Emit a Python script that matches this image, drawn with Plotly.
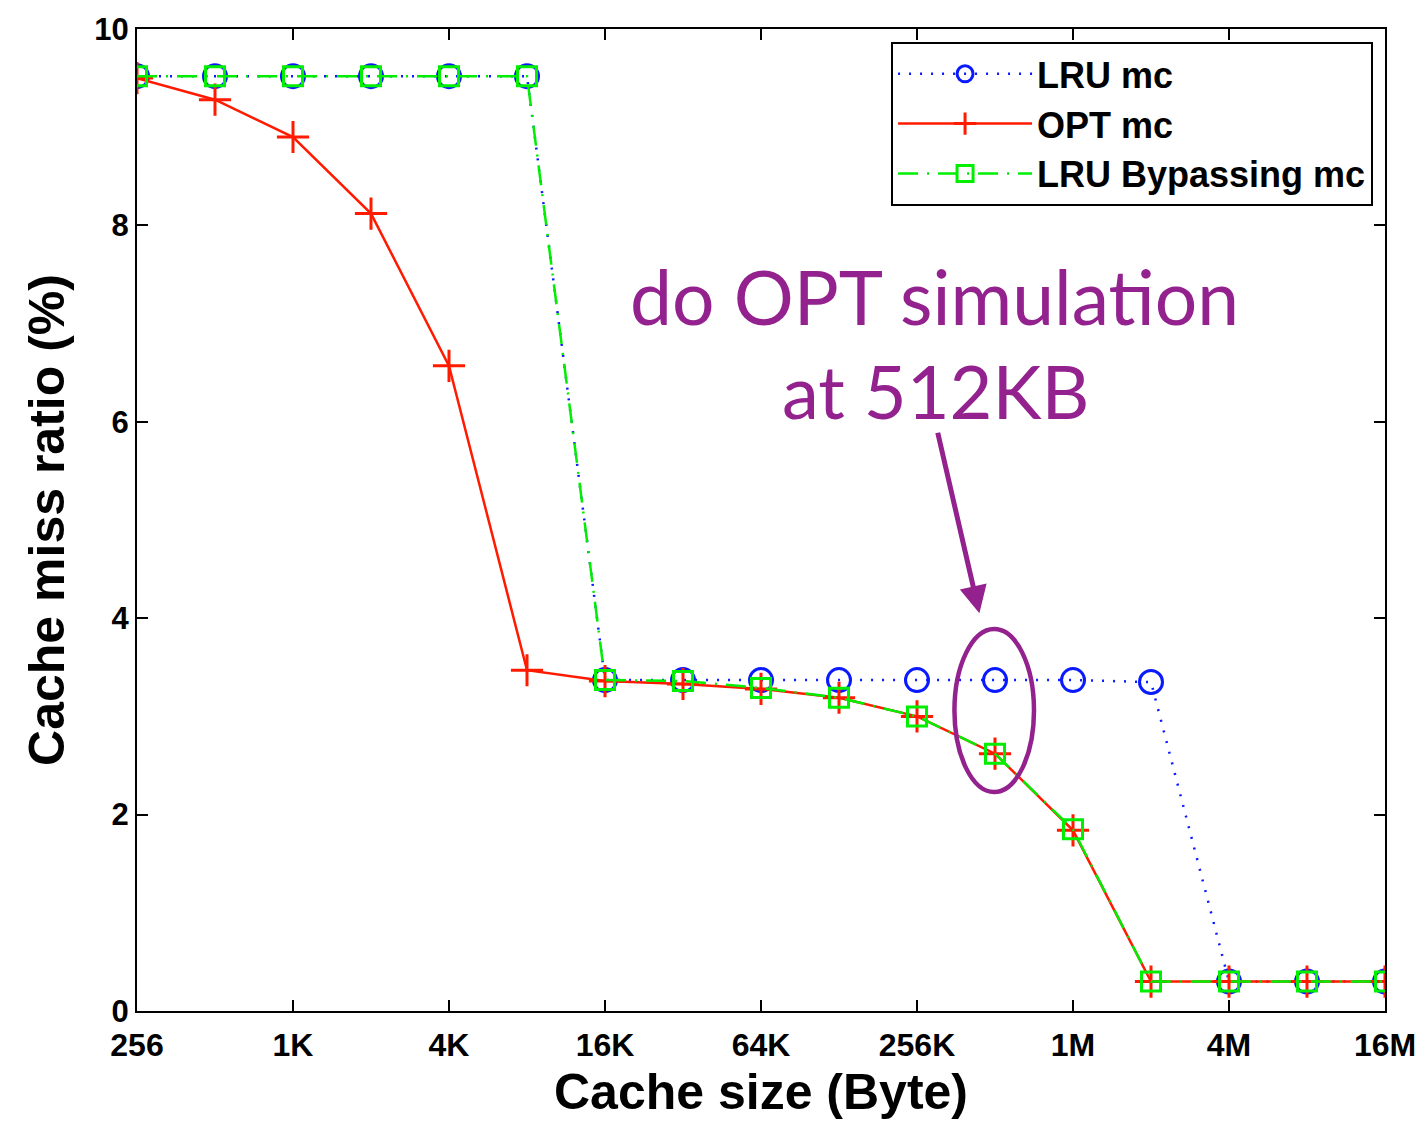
import numpy as np
import plotly.graph_objects as go

# ---- data ----
cache_sizes = [256, 512, 1024, 2048, 4096, 8192, 16384, 32768, 65536, 131072,
               262144, 524288, 1048576, 2097152, 4194304, 8388608, 16777216]
lru_mc = [9.52, 9.52, 9.52, 9.52, 9.52, 9.52, 3.37, 3.37, 3.37, 3.37,
          3.37, 3.37, 3.37, 3.35, 0.30, 0.30, 0.30]
opt_mc = [9.50, 9.28, 8.90, 8.12, 6.57, 3.47, 3.36, 3.33, 3.28, 3.19,
          3.00, 2.62, 1.84, 0.30, 0.30, 0.30, 0.30]
lru_bypass_mc = [9.52, 9.52, 9.52, 9.52, 9.52, 9.52, 3.37, 3.36, 3.29, 3.19,
                 3.00, 2.62, 1.85, 0.30, 0.30, 0.30, 0.30]
tick_sizes = [256, 1024, 4096, 16384, 65536, 262144, 1048576, 4194304, 16777216]
tick_labels = ["256", "1K", "4K", "16K", "64K", "256K", "1M", "4M", "16M"]

xs = np.log2(cache_sizes)
tickvals = np.log2(tick_sizes)

BLUE = "#0a1aff"
RED = "#ff1a00"
GREEN = "#00ee00"
PURPLE = "#93218e"

fig = go.Figure()
fig.add_trace(go.Scatter(
    x=xs, y=lru_mc, name="LRU mc", mode="lines+markers",
    line=dict(color=BLUE, width=2.5, dash="2px,9px"),
    marker=dict(symbol="circle-open", size=23, color=BLUE, line=dict(width=3, color=BLUE)),
))
fig.add_trace(go.Scatter(
    x=xs, y=opt_mc, name="OPT mc", mode="lines+markers",
    line=dict(color=RED, width=2.5),
    marker=dict(symbol="cross-thin-open", size=23, color=RED, line=dict(width=3, color=RED)),
))
fig.add_trace(go.Scatter(
    x=xs, y=lru_bypass_mc, name="LRU Bypassing mc", mode="lines+markers",
    line=dict(color=GREEN, width=2.5, dash="20px,9px,2px,9px"),
    marker=dict(symbol="square-open", size=19, color=GREEN, line=dict(width=3, color=GREEN)),
))

# annotation: ellipse around 512KB point
fig.add_shape(type="circle", xref="x", yref="y",
              x0=18.48, x1=19.50, y0=2.23, y1=3.89,
              line=dict(color=PURPLE, width=4.5), layer="above")

# arrow
fig.add_annotation(x=18.80, y=4.05, xref="x", yref="y", text="",
                   showarrow=True, arrowhead=2, arrowsize=1.1, arrowwidth=5,
                   arrowcolor=PURPLE, ax=-42, ay=-182, standoff=0)

# text
fig.add_annotation(x=18.22, y=7.28, xref="x", yref="y", text="do OPT simulation",
                   showarrow=False, xanchor="center", yanchor="middle",
                   font=dict(family="Lato", size=75, color=PURPLE))
fig.add_annotation(x=18.24, y=6.32, xref="x", yref="y", text="at 512KB",
                   showarrow=False, xanchor="center", yanchor="middle",
                   font=dict(family="Lato", size=74, color=PURPLE))

L, R, T, B = 137, 37, 23, 110
W, H = 1428, 1122
pw, ph = W - L - R, H - T - B

fig.update_layout(
    width=W, height=H,
    margin=dict(l=L, r=R, t=T, b=B),
    plot_bgcolor="white", paper_bgcolor="white",
    font=dict(family="Liberation Sans", color="black"),
    showlegend=True,
    legend=dict(
        x=(1379 - L) / pw, xanchor="right",
        y=1 - (36 - T) / ph, yanchor="top",
        bgcolor="white", bordercolor="black", borderwidth=2,
        font=dict(family="Liberation Sans", size=36, color="black", weight="bold"),
        itemwidth=134, tracegroupgap=0,
    ),
    xaxis=dict(
        range=[8, 24], tickmode="array", tickvals=tickvals, ticktext=tick_labels,
        showgrid=False, zeroline=False, showline=True, linecolor="black", linewidth=2,
        mirror="ticks", ticks="inside", ticklen=11, tickwidth=1.5, tickcolor="black",
        ticklabelstandoff=5,
        tickfont=dict(family="Liberation Sans", size=32, weight="bold"),
        title=dict(text="Cache size (Byte)", standoff=12,
                   font=dict(family="Liberation Sans", size=50, weight="bold")),
    ),
    yaxis=dict(
        range=[0, 10], tickmode="array", tickvals=[0, 2, 4, 6, 8, 10],
        showgrid=False, zeroline=False, showline=True, linecolor="black", linewidth=2,
        mirror="ticks", ticks="inside", ticklen=11, tickwidth=1.5, tickcolor="black",
        tickfont=dict(family="Liberation Sans", size=31, weight="bold"),
        title=dict(text="Cache miss ratio (%)", standoff=14,
                   font=dict(family="Liberation Sans", size=50, weight="bold")),
    ),
)

fig.write_html("out.html")
